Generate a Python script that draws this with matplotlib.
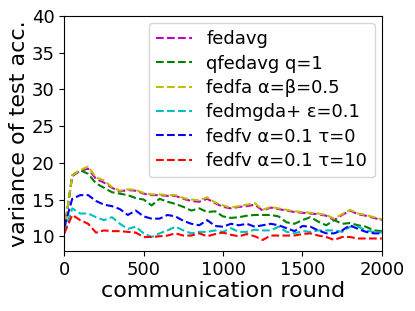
import matplotlib
matplotlib.use('Agg')
import matplotlib.pyplot as plt

# communication rounds (sampled every 50)
rounds = list(range(0, 2001, 50))

fedavg = [10.8, 18.2, 18.9, 19.2, 17.8, 17.3, 16.6, 16.1, 16.3, 16.2,
          15.8, 15.6, 15.6, 15.5, 15.5, 15.1, 14.8, 14.7, 15.1, 14.5,
          14.0, 13.8, 14.0, 14.1, 14.3, 13.5, 13.9, 13.7, 13.5, 13.3,
          13.2, 13.1, 13.0, 12.8, 12.2, 12.9, 13.5, 13.0, 12.8, 12.5, 12.2]
qfedavg = [10.8, 18.3, 19.0, 18.5, 17.2, 16.6, 16.0, 15.8, 15.6, 15.2,
           15.0, 14.2, 15.1, 14.7, 14.4, 14.0, 13.5, 13.8, 13.3, 13.4,
           12.7, 12.5, 12.6, 12.8, 12.9, 12.9, 12.9, 12.7, 11.9, 11.7,
           12.2, 12.6, 12.0, 11.5, 12.2, 11.7, 11.8, 11.5, 11.3, 10.8, 10.7]
fedfa = [10.8, 18.3, 19.0, 19.5, 18.0, 17.6, 16.7, 16.2, 16.4, 16.3,
         15.9, 15.7, 15.7, 15.6, 15.6, 15.2, 15.0, 14.9, 15.3, 14.6,
         14.2, 13.9, 14.1, 14.3, 14.5, 13.6, 14.0, 13.8, 13.6, 13.4,
         13.3, 13.2, 13.1, 12.9, 12.4, 13.0, 13.6, 13.1, 12.9, 12.6, 12.3]
fedmgda = [10.5, 13.8, 13.1, 13.1, 12.6, 12.2, 12.6, 11.7, 11.0, 11.3,
           10.4, 9.9, 10.4, 10.8, 11.3, 10.8, 10.4, 10.6, 10.6, 10.8,
           10.6, 11.1, 10.6, 10.6, 10.9, 10.8, 10.8, 11.3, 10.6, 10.4,
           10.7, 10.6, 10.8, 10.8, 10.8, 10.6, 11.3, 11.3, 10.8, 10.6, 10.5]
fedfv_t0 = [11.3, 15.1, 15.6, 15.6, 14.8, 14.3, 14.1, 13.7, 12.9, 13.5,
            12.7, 12.4, 12.4, 12.9, 12.7, 12.1, 11.7, 11.5, 12.2, 11.4,
            11.3, 11.7, 11.5, 11.7, 11.3, 11.5, 11.7, 11.5, 11.1, 10.7,
            11.4, 11.3, 10.8, 10.4, 10.4, 10.8, 11.5, 11.0, 10.6, 10.4, 10.4]
fedfv_t10 = [10.4, 12.9, 12.2, 11.7, 10.5, 10.8, 10.7, 10.7, 10.6, 10.5,
             9.9, 9.9, 10.0, 10.1, 10.4, 10.1, 10.1, 10.4, 10.0, 10.3,
             10.5, 10.2, 10.0, 10.3, 10.0, 9.5, 10.1, 10.1, 10.1, 10.1,
             10.3, 10.4, 10.1, 9.9, 9.5, 9.9, 9.9, 9.7, 9.7, 9.7, 9.7]

series = [
    (fedavg,    'm', 'fedavg'),
    (qfedavg,   'g', 'qfedavg q=1'),
    (fedfa,     'y', 'fedfa α=β=0.5'),
    (fedmgda,   'c', 'fedmgda+ ε=0.1'),
    (fedfv_t0,  'b', 'fedfv α=0.1 τ=0'),
    (fedfv_t10, 'r', 'fedfv α=0.1 τ=10'),
]

fig = plt.figure(figsize=(4.15, 3.11), dpi=100)
ax = fig.add_axes([0.155, 0.193, 0.765, 0.756])

for vals, c, name in series:
    ax.plot(rounds, vals, linestyle='--', color=c, linewidth=1.5, label=name)

ax.set_xlim(0, 2000)
ax.set_ylim(8, 40)
ax.set_xticks([0, 500, 1000, 1500, 2000])
ax.set_yticks([10, 15, 20, 25, 30, 35, 40])
ax.tick_params(labelsize=13)
ax.set_xlabel('communication round', fontsize=16, labelpad=2)
ax.set_ylabel('variance of test acc.', fontsize=16, labelpad=2)
ax.legend(loc='upper right', fontsize=13, borderaxespad=0.4,
          labelspacing=0.35)

fig.savefig('out.png', dpi=100)
